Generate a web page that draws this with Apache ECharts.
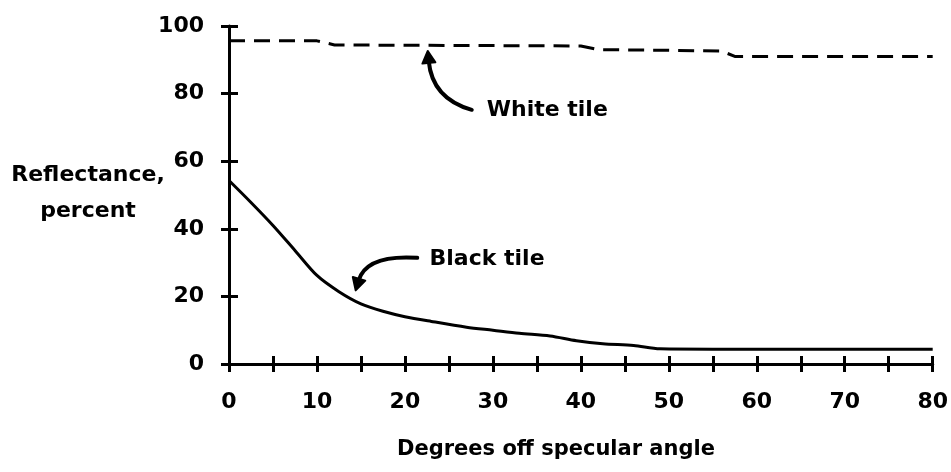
<!DOCTYPE html>
<html>
<head>
<meta charset="utf-8">
<script src="https://cdn.jsdelivr.net/npm/echarts@6/dist/echarts.min.js"></script>
<style>
  html, body { margin: 0; padding: 0; background: #fff; }
  #chart { width: 951px; height: 472px; }
</style>
</head>
<body>
<div id="chart"></div>
<script>
// Reflectance vs. viewing angle for two ceramic tiles
const whiteAngle   = [0, 10, 11, 12, 20, 30, 40, 42, 50, 56, 57.5, 80];
const whiteReflect = [95.6, 95.6, 95.0, 94.4, 94.3, 94.2, 94.1, 93.0, 92.8, 92.6, 91.0, 91.0];

const blackAngle   = [0, 2.5, 5, 7.5, 10, 12.5, 15, 17.5, 20, 23, 27, 30, 33, 36.5, 39.5, 42.5, 46, 49, 55, 80];
const blackReflect = [54.3, 47.8, 41.0, 33.6, 26.2, 21.4, 17.8, 15.6, 14.0, 12.6, 10.9, 10.0, 9.1, 8.3, 6.9, 6.0, 5.5, 4.5, 4.4, 4.4];

const xTickStep = 5;
const xLabelStep = 10;
const yTickStep = 20;

const FONT = 'DejaVu Sans';
const INK = '#000';
const TEXT_FONT = 'bold 22px "' + FONT + '"';

const chart = echarts.init(document.getElementById('chart'), null, { renderer: 'canvas' });

function pairs(xs, ys) { return xs.map((x, i) => [x, ys[i]]); }

const baseX = {
  type: 'value', min: 0, max: 80, interval: xTickStep, position: 'bottom', offset: 0,
  splitLine: { show: false }
};
const baseY = {
  type: 'value', min: 0, max: 100, interval: yTickStep, position: 'left', offset: 0,
  splitLine: { show: false }
};

chart.setOption({
  animation: false,
  backgroundColor: '#fff',
  grid: { left: 229, right: 18, top: 26, bottom: 108, containLabel: false },
  xAxis: [
    Object.assign({}, baseX, {
      axisLine: { show: true, lineStyle: { color: INK, width: 3 } },
      axisTick: { show: true, inside: false, length: 8, lineStyle: { color: INK, width: 3 } },
      axisLabel: {
        show: true, margin: 27, color: INK, fontFamily: FONT, fontWeight: 'bold', fontSize: 22,
        formatter: v => (v % xLabelStep === 0 ? String(v) : '')
      }
    }),
    Object.assign({}, baseX, {
      axisLine: { show: false },
      axisTick: { show: true, inside: true, length: 8, lineStyle: { color: INK, width: 3 } },
      axisLabel: { show: false }
    })
  ],
  yAxis: [
    Object.assign({}, baseY, {
      axisLine: { show: true, lineStyle: { color: INK, width: 3 } },
      axisTick: { show: true, inside: false, length: 8, lineStyle: { color: INK, width: 3 } },
      axisLabel: { show: true, margin: 25, color: INK, fontFamily: FONT, fontWeight: 'bold', fontSize: 22 }
    }),
    Object.assign({}, baseY, {
      axisLine: { show: false },
      axisTick: { show: true, inside: true, length: 9, lineStyle: { color: INK, width: 3 } },
      axisLabel: { show: false }
    })
  ],
  series: [
    {
      name: 'White tile', type: 'line', xAxisIndex: 0, yAxisIndex: 0,
      data: pairs(whiteAngle, whiteReflect), showSymbol: false, smooth: false,
      lineStyle: { color: INK, width: 3, type: [16, 9] }
    },
    {
      name: 'Black tile', type: 'line', xAxisIndex: 0, yAxisIndex: 0,
      data: pairs(blackAngle, blackReflect), showSymbol: false, smooth: 0.3,
      lineStyle: { color: INK, width: 3 }
    }
  ]
});

// Callout anchors in data space: label start, arrow tail, arrow control, arrow tip
const callouts = [
  { text: 'White tile', label: [29.3, 75.0], tail: [27.6, 75.2], ctrl: [23.1, 78.5], tip: [22.6, 92.6] },
  { text: 'Black tile', label: [22.8, 31.0], tail: [21.4, 31.4], ctrl: [15.6, 32.4], tip: [14.4, 21.8] }
];

const toPx = p => chart.convertToPixel({ xAxisIndex: 0, yAxisIndex: 0 }, p);

const graphics = [];
callouts.forEach(c => {
  const L = toPx(c.label), T = toPx(c.tail), C = toPx(c.ctrl), P = toPx(c.tip);
  graphics.push({
    type: 'text', x: L[0], y: L[1],
    style: { text: c.text, fill: INK, font: TEXT_FONT, textAlign: 'left', textVerticalAlign: 'middle' }
  });
  // arrow shaft stops just short of the tip so the head covers it
  const dx = P[0] - C[0], dy = P[1] - C[1];
  const len = Math.hypot(dx, dy);
  const ux = dx / len, uy = dy / len;
  const headLen = 12, headHalf = 6.5;
  const bx = P[0] - ux * headLen, by = P[1] - uy * headLen;
  graphics.push({
    type: 'bezierCurve',
    shape: { x1: T[0], y1: T[1], cpx1: C[0], cpy1: C[1], x2: bx + ux * 2, y2: by + uy * 2 },
    style: { stroke: INK, lineWidth: 4, fill: null, lineCap: 'round' }
  });
  graphics.push({
    type: 'polygon',
    shape: { points: [[P[0], P[1]], [bx - uy * headHalf, by + ux * headHalf], [bx + uy * headHalf, by - ux * headHalf]] },
    style: { fill: INK, stroke: INK, lineWidth: 2, lineJoin: 'round' }
  });
});

// Axis titles
graphics.push({
  type: 'text', x: 88, y: 175,
  style: { text: 'Reflectance,', fill: INK, font: TEXT_FONT, textAlign: 'center', textVerticalAlign: 'middle' }
});
graphics.push({
  type: 'text', x: 88, y: 211,
  style: { text: 'percent', fill: INK, font: TEXT_FONT, textAlign: 'center', textVerticalAlign: 'middle' }
});
graphics.push({
  type: 'text', x: 556, y: 450,
  style: { text: 'Degrees off specular angle', fill: INK, font: 'bold 21px "' + FONT + '"', textAlign: 'center', textVerticalAlign: 'middle' }
});

chart.setOption({ graphic: graphics });
</script>
</body>
</html>
